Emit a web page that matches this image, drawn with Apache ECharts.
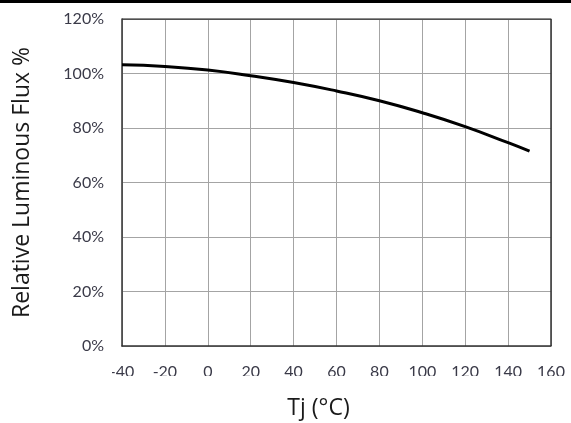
<!DOCTYPE html>
<html>
<head>
<meta charset="utf-8">
<script src="https://cdn.jsdelivr.net/npm/echarts@6/dist/echarts.min.js"></script>
<style>
  html, body { margin: 0; padding: 0; background: #fff; }
  #chart { width: 571px; height: 423px; }
</style>
</head>
<body>
<div id="chart"></div>
<script>
// junction temperature (°C) and relative luminous flux (%)
const tj = [-40, -20, 0, 20, 40, 60, 80, 100, 120, 140, 150]
const flux = [103.2, 102.6, 101.3, 99.2, 96.7, 93.6, 90.0, 85.6, 80.5, 74.6, 71.5]
const xTicks = [-40, -20, 0, 20, 40, 60, 80, 100, 120, 140, 160]
const yTicks = [0, 20, 40, 60, 80, 100, 120]

const chart = echarts.init(document.getElementById('chart'))

const labelFont = { fontFamily: 'Lato', fontSize: 16, color: '#3a3a48' }

chart.setOption({
  animation: false,
  grid: { left: 122, right: 20, top: 19, bottom: 77, outerBoundsMode: 'none' },
  graphic: [
    // thin black strip along the top edge
    { type: 'rect', left: 0, top: 0, z: 100, shape: { width: 571, height: 3 }, style: { fill: '#000' } },
    // the source image crops the bottom of the x tick labels
    { type: 'rect', left: 0, top: 376, z: 100, shape: { width: 571, height: 14 }, style: { fill: '#fff' } },
    { type: 'rect', left: 96, top: 355, z: 100, shape: { width: 16, height: 30 }, style: { fill: '#fff' } }
  ],
  xAxis: {
    type: 'value',
    min: xTicks[0],
    max: xTicks[xTicks.length - 1],
    interval: 20,
    name: 'Tj (°C)',
    nameLocation: 'middle',
    nameGap: 51,
    nameTextStyle: { fontFamily: 'Open Sans', fontSize: 23, color: '#1a1a1a', padding: [0, 36, 0, 0] },
    axisLine: { show: true, onZero: false, lineStyle: { color: '#333', width: 1.5 } },
    axisTick: { show: false },
    axisLabel: Object.assign({ margin: 18 }, labelFont),
    splitLine: { show: true, lineStyle: { color: '#a4a4a4', width: 1 } }
  },
  yAxis: {
    type: 'value',
    min: yTicks[0],
    max: yTicks[yTicks.length - 1],
    interval: 20,
    name: 'Relative Luminous Flux %',
    nameLocation: 'middle',
    nameGap: 88,
    nameTextStyle: { fontFamily: 'Open Sans', fontSize: 23, color: '#1a1a1a' },
    axisLine: { show: true, onZero: false, lineStyle: { color: '#333', width: 1.5 } },
    axisTick: { show: false },
    axisLabel: Object.assign({ margin: 18, formatter: '{value}%' }, labelFont),
    splitLine: { show: true, lineStyle: { color: '#a4a4a4', width: 1 } }
  },
  series: [
    {
      type: 'line',
      data: tj.map((t, i) => [t, flux[i]]),
      smooth: true,
      symbol: 'none',
      lineStyle: { color: '#000', width: 3 }
    },
    {
      // closes the frame on the top and right
      type: 'line',
      data: [[-40, 120], [160, 120], [160, 0]],
      symbol: 'none',
      silent: true,
      lineStyle: { color: '#333', width: 1.5 }
    }
  ]
})
</script>
</body>
</html>
